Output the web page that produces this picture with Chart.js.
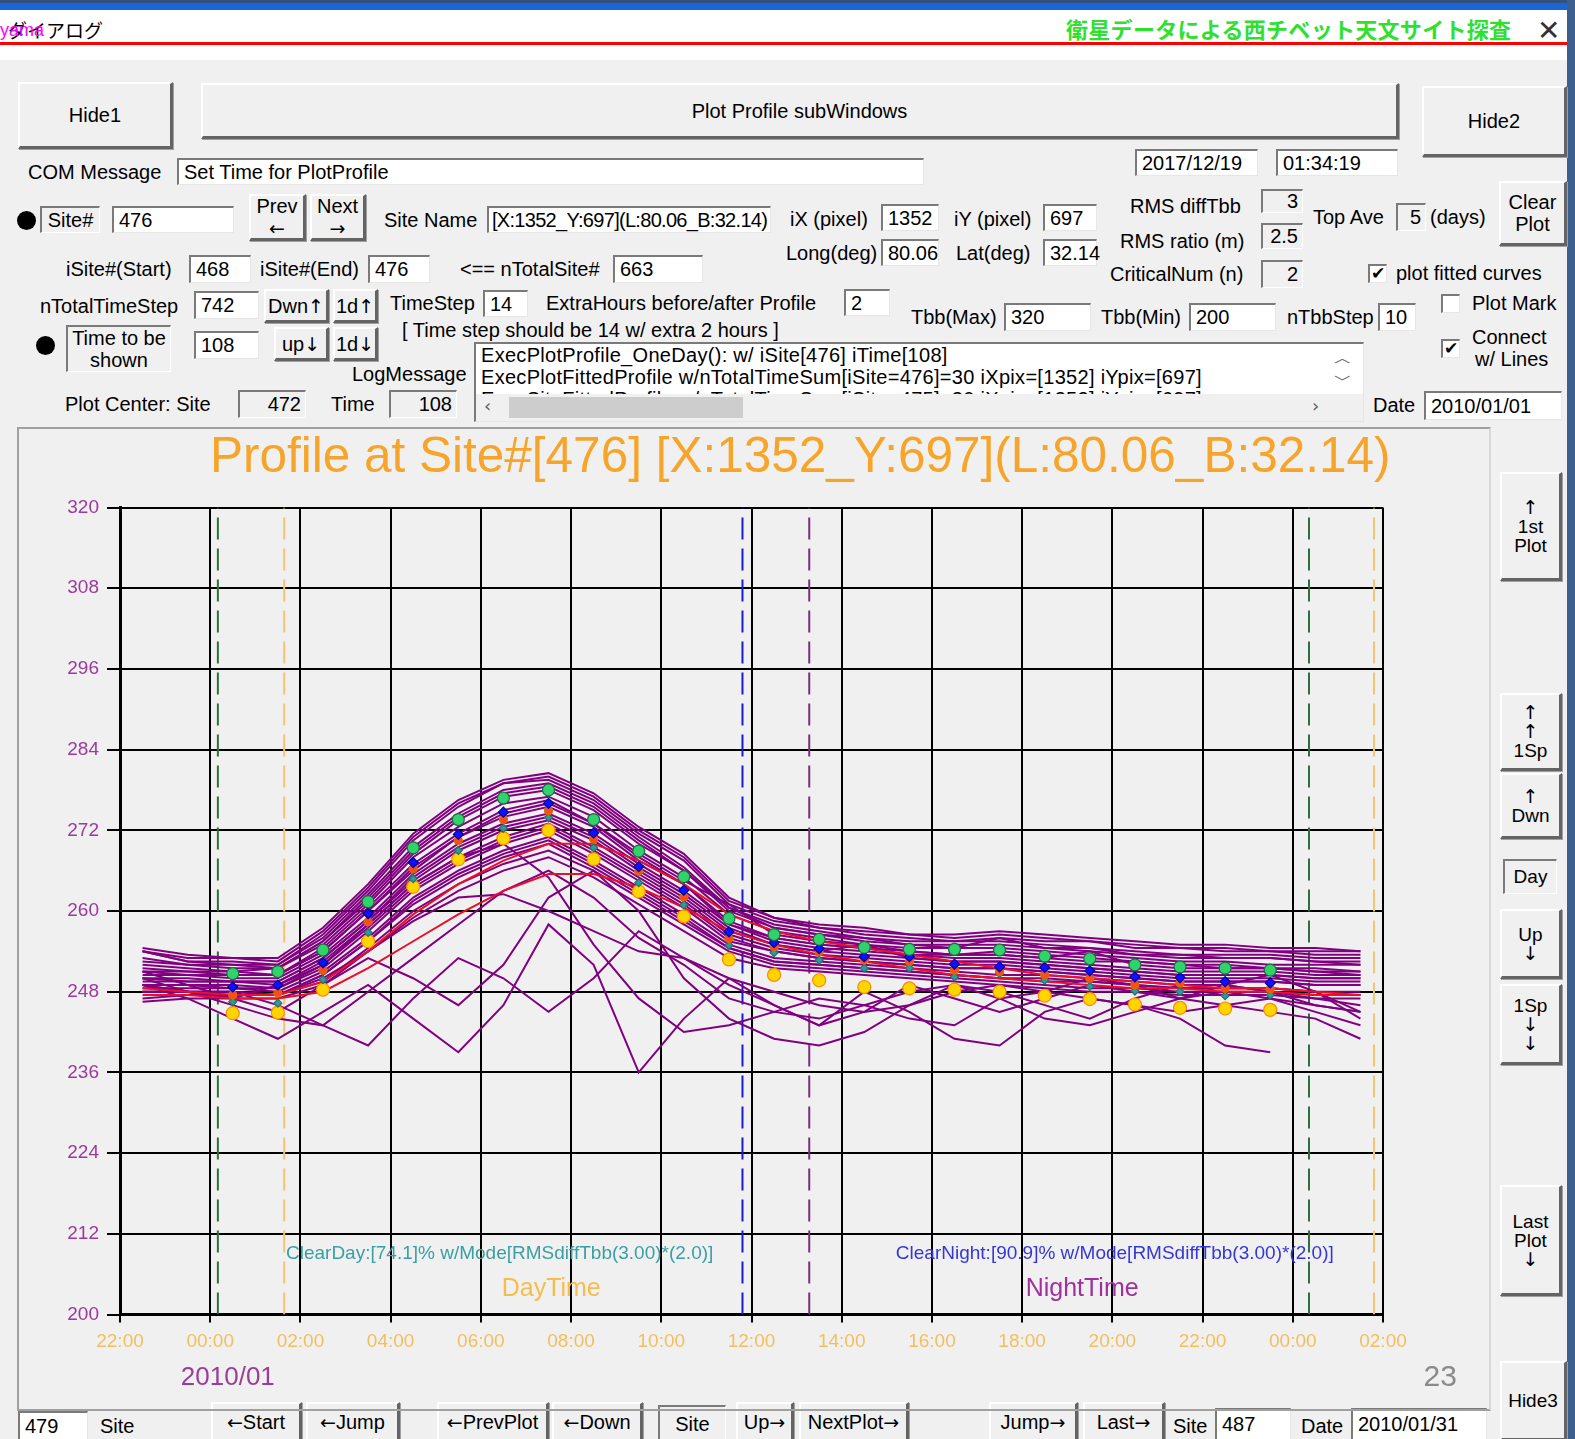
<!DOCTYPE html>
<html lang="ja">
<head>
<meta charset="utf-8">
<title>Plot Profile subWindows</title>
<script src="https://cdn.jsdelivr.net/npm/chart.js@4.4.1/dist/chart.umd.min.js"></script>
<style>
html, body { margin: 0; padding: 0; }
body { width: 1575px; height: 1439px; overflow: hidden; position: relative; background: #f0f0f0;
  font-family: "Liberation Sans", Arial, sans-serif; font-size: 20px; color: #000; }
#topbar { position: absolute; left: 0; top: 0; width: 1575px; height: 10px; background: #1a66d6; border-top: 3px solid #34507e; box-sizing: border-box; }
#caption { position: absolute; left: 0; top: 10px; width: 1567px; height: 50px; background: #fff; }
#redline { position: absolute; left: 0; top: 42px; width: 1567px; height: 3px; background: #f00; }
#rightedge { position: absolute; left: 1567px; top: 0; width: 8px; height: 1439px; background: #3d5f90; }
.w { position: absolute; box-sizing: border-box; white-space: nowrap; }
.btn { background: #f0f0f0; border-style: solid; border-width: 2px 3px 3px 2px; border-color: #fff #646464 #646464 #fff;
  box-shadow: 1px 1px 0 #a0a0a0; display: flex; align-items: center; justify-content: center; text-align: center; line-height: 1.1; }
.rbtn { font-size: 19px; line-height: 1.0; }
.box { background: #fff; border-style: solid; border-width: 2px 1px 1px 2px; border-color: #7a7a7a #e6e6e6 #e6e6e6 #7a7a7a;
  padding-left: 5px; display: flex; align-items: center; }
.tight { letter-spacing: -0.7px; padding-left: 3px; }
.gbox { background: #f0f0f0; border-style: solid; border-width: 2px 1px 1px 2px; border-color: #7a7a7a #fff #fff #7a7a7a;
  padding-right: 4px; display: flex; align-items: center; justify-content: flex-end; }
.slab { background: #f0f0f0; border-style: solid; border-width: 2px 1px 1px 2px; border-color: #7a7a7a #fff #fff #7a7a7a;
  display: flex; align-items: center; justify-content: center; text-align: center; line-height: 1.1; padding: 0 3px; }
.lbl { line-height: 26px; height: 26px; }
.ar { font-family: "DejaVu Sans", sans-serif; font-size: 19px; }
.chk { width: 19px; height: 19px; background: #fff; border-style: solid; border-width: 2px 1px 1px 2px; border-color: #7a7a7a #e6e6e6 #e6e6e6 #7a7a7a;
  font: bold 17px "DejaVu Sans", sans-serif; line-height: 15px; text-align: center; }
.dot { width: 19px; height: 19px; border-radius: 50%; background: #000; }
#plotbox { position: absolute; left: 17px; top: 427px; width: 1474px; height: 984px; box-sizing: border-box;
  border: 2px solid; border-color: #a0a0a0 #d8d8d8 #a0a0a0 #a0a0a0; }
#chart { position: absolute; left: 19px; top: 429px; }
#log { position: absolute; left: 474px; top: 342px; width: 890px; height: 80px; box-sizing: border-box; background: #fff;
  border-style: solid; border-width: 2px 1px 1px 2px; border-color: #7a7a7a #e6e6e6 #e6e6e6 #7a7a7a; overflow: hidden; }
#log .ln { position: absolute; left: 5px; white-space: nowrap; line-height: 22px; letter-spacing: 0.3px; }
#hscroll { position: absolute; left: 0; bottom: 0; width: 100%; height: 27px; background: #f0f0f0; }
#thumb { position: absolute; left: 33px; top: 3px; width: 234px; height: 21px; background: #cdcdcd; }
.arr { position: absolute; font: 18px "DejaVu Sans", sans-serif; color: #606060; }
</style>
</head>
<body>
<div id="topbar"></div>
<div id="caption"></div>
<div class="w" style="left:8px;top:16px;font:19px 'Noto Sans CJK JP';line-height:28px;">ダイアログ</div>
<div class="w" style="left:0;top:16px;font:18px 'Liberation Sans';line-height:28px;color:#ff00ff;">yama</div>
<div id="redline"></div>
<div class="w" style="left:1066px;top:12px;font:bold 22px 'Noto Sans CJK JP';line-height:32px;color:#2fe02f;letter-spacing:0.3px;">衛星データによる西チベット天文サイト探査</div>
<div class="w" style="left:1537px;top:14px;font:28px 'DejaVu Sans';line-height:34px;color:#333;font-weight:200;">✕</div>
<div id="rightedge"></div>

<div id="ui"></div>

<div id="log">
  <div class="ln" style="top:0px">ExecPlotProfile_OneDay(): w/ iSite[476] iTime[108]</div>
  <div class="ln" style="top:22px">ExecPlotFittedProfile w/nTotalTimeSum[iSite=476]=30 iXpix=[1352] iYpix=[697]</div>
  <div class="ln" style="top:44px">ExecSiteFittedProfile w/nTotalTimeSum[iSite=475]=30 iXpix=[1352] iYpix=[697]</div>
  <div class="arr" style="left:858px;top:2px;">︿</div>
  <div class="arr" style="left:858px;top:24px;">﹀</div>
  <div id="hscroll">
    <div class="arr" style="left:8px;top:1px;">‹</div>
    <div id="thumb"></div>
    <div class="arr" style="left:836px;top:1px;">›</div>
  </div>
</div>

<div id="plotbox"></div>
<canvas id="chart" width="1470" height="980"></canvas>

<script>
// ---- chart data (hours after 22:00, Tbb in K) ----
const lineHours = [0.5, 1.5, 2.5, 3.5, 4.5, 5.5, 6.5, 7.5, 8.5, 9.5, 10.5, 11.5, 12.5, 13.5,
  14.5, 15.5, 16.5, 17.5, 18.5, 19.5, 20.5, 21.5, 22.5, 23.5, 24.5, 25.5, 26.5, 27.5];
const markHours = [2.5, 3.5, 4.5, 5.5, 6.5, 7.5, 8.5, 9.5, 10.5, 11.5, 12.5, 13.5,
  14.5, 15.5, 16.5, 17.5, 18.5, 19.5, 20.5, 21.5, 22.5, 23.5, 24.5, 25.5];

const timeLabels = ['22:00', '00:00', '02:00', '04:00', '06:00', '08:00', '10:00', '12:00',
  '14:00', '16:00', '18:00', '20:00', '22:00', '00:00', '02:00'];

// hourly markers
const markGreen = [250.7, 251.0, 254.2, 261.4, 269.4, 273.6, 276.8, 278.0, 273.6, 268.9, 265.1, 258.9,
  256.5, 255.8, 254.6, 254.3, 254.3, 254.2, 253.3, 252.9, 252.0, 251.7, 251.5, 251.2];
const markBlue = [248.7, 249.0, 252.3, 259.6, 267.2, 271.4, 274.7, 276.0, 271.6, 266.6, 263.1, 256.9,
  255.3, 254.4, 253.2, 253.2, 252.1, 251.7, 251.6, 251.1, 250.2, 250.1, 249.5, 249.3];
const markRed = [247.5, 247.8, 251.2, 258.4, 266.3, 270.5, 273.6, 274.9, 270.7, 265.9, 262.1, 255.9,
  254.7, 253.9, 252.7, 252.5, 251.2, 251.0, 250.5, 250.0, 249.0, 249.3, 248.5, 248.4];
const markTeal = [246.5, 246.3, 249.8, 256.8, 264.8, 269.0, 272.3, 273.9, 269.4, 264.2, 260.9, 254.9,
  253.8, 252.7, 251.5, 251.5, 250.2, 250.7, 249.7, 248.8, 248.1, 248.0, 247.4, 247.5];
const markYellow = [244.8, 244.9, 248.3, 255.5, 263.6, 267.7, 270.8, 272.0, 267.7, 262.9, 259.2, 252.8,
  250.5, 249.7, 248.7, 248.5, 248.3, 248.0, 247.4, 246.9, 246.1, 245.6, 245.5, 245.3];

// daily profiles (purple)
const dayProfiles = [
  [254.5, 253.5, 253, 253, 257.5, 264, 271.5, 276.5, 279.5, 280.5, 277.5, 272.5, 268.5, 262, 259, 258, 257.5, 256.5, 256.5, 257, 256.5, 256, 255.5, 255, 255, 254.5, 254.5, 254],
  [254, 253, 253, 252.5, 257, 263.5, 271, 276, 279, 280, 277, 272, 268, 261.5, 259, 257.5, 257, 256.5, 256, 256.5, 256, 255.5, 255, 254.5, 254.5, 254, 254, 254],
  [254, 252.5, 252.5, 252, 256.5, 263, 270.5, 275.5, 279, 279.5, 276.5, 271.5, 267.5, 261, 258.5, 257.5, 256.5, 256, 255.5, 256, 255.5, 255.5, 254.5, 254.5, 254, 254, 253.5, 253.5],
  [254, 252.5, 252, 252, 256, 262.5, 269.5, 274.5, 278, 279, 276, 271, 266.5, 260.5, 258, 257, 256, 255.5, 255.5, 255.5, 255, 254.5, 254, 253.5, 253.5, 253.5, 253, 253],
  [253, 252, 252, 251.5, 255.5, 262, 269, 274, 277.5, 278.5, 275.5, 270.5, 266, 260.5, 257.5, 256.5, 256, 255, 255, 255, 254.5, 254.5, 253.5, 253.5, 253, 253, 252.5, 252.5],
  [252.5, 252, 251.5, 251.5, 255.5, 261.5, 268.5, 273.5, 277, 278, 275, 270, 266, 260, 257.5, 256.5, 255.5, 255, 254.5, 256, 254.5, 254, 253.5, 253, 253, 253, 252.5, 252],
  [252, 251.5, 251, 251.5, 255, 261, 268, 272.5, 276, 277, 274, 269, 265, 259.5, 257, 256, 255, 254.5, 254.5, 254.5, 254, 253.5, 253, 252.5, 252.5, 252, 252, 252],
  [251.5, 251, 251, 250.5, 254.5, 260.5, 267, 271.5, 275, 276.5, 273, 268.5, 264.5, 261, 256.5, 255.5, 255, 254, 253.5, 254, 253.5, 253, 252.5, 252, 252, 251.5, 251.5, 251],
  [251, 251, 250.5, 250.5, 254, 260, 266.5, 271, 274.5, 276, 273, 268, 264, 258.5, 256, 255, 254.5, 254, 253.5, 253.5, 253, 252.5, 252.5, 252, 251.5, 251.5, 251, 251],
  [251, 250.5, 250.5, 250.5, 254, 260, 266, 271, 274, 275.5, 272.5, 267.5, 264, 258, 256, 255, 254.5, 253.5, 253.5, 253.5, 253, 254, 252, 251.5, 251.5, 251.5, 251, 250.5],
  [250.5, 250.5, 250, 250, 253.5, 259, 265.5, 270, 273, 274.5, 271.5, 267, 263, 258, 255.5, 254.5, 254, 253.5, 253, 253, 252.5, 252, 251.5, 251, 251, 251, 250.5, 250.5],
  [250, 250, 249.5, 249.5, 253, 258.5, 265, 269.5, 272.5, 274, 271, 266.5, 262.5, 257.5, 255, 254, 253.5, 253, 252.5, 252.5, 252, 251.5, 251, 250.5, 250.5, 250.5, 250, 250],
  [250, 249.5, 249.5, 249.5, 253, 258.5, 264.5, 269, 272, 273.5, 270.5, 266, 262, 257, 255, 254, 255, 253, 252.5, 252.5, 252, 251.5, 251, 250.5, 250.5, 250.5, 250, 250],
  [249.5, 249.5, 249.5, 249, 252.5, 258, 264, 268, 271, 273, 269.5, 265.5, 261.5, 256.5, 254.5, 253.5, 253, 252.5, 252, 252, 251.5, 251, 250.5, 250, 250, 250, 249.5, 249.5],
  [249, 249, 249, 248.5, 252, 257.5, 263.5, 267.5, 270.5, 272.5, 269, 265, 261, 256, 254, 253, 252.5, 252, 251.5, 251.5, 251, 250.5, 250, 249.5, 249.5, 249.5, 249, 249],
  [249, 249, 248.5, 248.5, 251.5, 257, 263, 267, 270, 272, 268.5, 264.5, 260.5, 255.5, 254, 253, 252.5, 252, 251.5, 251.5, 251, 250.5, 250, 249.5, 249.5, 249.5, 249, 249],
  [248.5, 248.5, 248.5, 248, 251, 256, 262, 266, 269, 271, 267.5, 263.5, 259.5, 255, 253, 252.5, 252, 251.5, 251, 250.5, 250.5, 250, 249.5, 249, 249, 250.5, 248, 245],
  [248, 248, 247.5, 247.5, 250.5, 255.5, 261.5, 265.5, 268.5, 270.5, 267, 263, 259, 254.5, 252.5, 252, 251.5, 251, 250.5, 250, 250, 249.5, 249, 248.5, 248.5, 248.5, 248, 248],
  [248, 248, 248, 247.5, 250.5, 255.5, 261, 265, 268, 270, 266.5, 262.5, 258.5, 254.5, 252.5, 252, 251.5, 251, 250.5, 250, 249.5, 249.5, 249, 248.5, 248.5, 248.5, 248, 244],
  [247, 247.5, 247.5, 247.5, 249.5, 254.5, 260, 264, 267, 269, 266, 262, 258, 254, 252, 251.5, 251, 250.5, 250, 249.5, 249, 248.5, 248.5, 248, 248, 248, 247.5, 247.5],
  [246.5, 247, 247, 247, 249, 254, 259, 263, 266, 268, 265, 261, 257, 253, 251.5, 251, 250.5, 250, 249.5, 249, 248.5, 248, 248, 247.5, 247.5, 247.5, 247, 247],
  [249, 247, 244, 241, 245, 249, 244, 239, 246, 258, 252, 236, 244, 250, 246, 243, 248, 245, 241, 240, 245, 247, 246, 244, 240, 239, null, null],
  [250, 248, 246, 244, 243, 248, 253, 258, 263, 266, 262, 256, 252, 247, 245, 244, 246, 244, 243, 247, 248, 250, 249, 247, 246, 245, 244, 241],
  [248, 248, 247, 249, 252, 258, 264, 268, 270, 265, 255, 247, 242, 243, 245, 247, 246, 248, 249, 247, 244, 243, 245, 247, 248, 247, 245, 243],
  [249, 248, 248, 246, 243, 240, 247, 253, 250, 245, 250, 257, 253, 249, 246, 243, 245, 249, 247, 245, 247, 249, 248, 247, 249, 248, 246, 245],
  [251, 249, 247, 245, 249, 253, 250, 246, 252, 262, 266, 260, 250, 244, 241, 240, 242, 246, 249, 248, 246, 244, 247, 249, 249, 248, 247, 246],
  [249, 248, 248, 247.5, 250, 254, 258.5, 262, 262.5, 260, 257, 254, 253, 250, 248, 246, 245, 246, 248, 249, 248, 247, 246, 245, 246, 247, 246, 245]
];

// fitted curves (red)
const fittedCurves = [
  [248.5, 248, 247.5, 247.5, 249.5, 254, 259.5, 264, 267.5, 270, 270, 267.5, 264, 259.5, 257, 255.5, 254.5, 253.5, 252.5, 251.5, 250.5, 250, 249.5, 249, 248.5, 248.5, 248, 247.5],
  [247.5, 247.5, 247, 247, 248, 251.5, 255.5, 259.5, 263, 265.5, 265.5, 263.5, 260.5, 257, 255, 253.5, 252.5, 251.5, 250.5, 250, 249.5, 249, 248.5, 248.5, 248, 248, 247.5, 247.5]
];

// sunrise / sunset guide lines (hours after 22:00)
const guideHours = [2.17, 3.64, 13.8, 15.28, 26.36, 27.8];
const guideColors = ['#2f6f3f', '#f4c474', '#1a1ad0', '#7b2f7b', '#2f6f3f', '#f4c474'];

const chartTitle = 'Profile at Site#[476] [X:1352_Y:697](L:80.06_B:32.14)';

// free texts drawn on the chart (placed in hour / Tbb units)
const notes = [
  { text: chartTitle, h: 15.08, v: 327.3, color: '#f6a52a', size: 49.5, align: 'center' },
  { text: 'ClearDay:[74.1]% w/Mode[RMSdiffTbb(3.00)*(2.0)]', h: 3.68, v: 209.0, color: '#3a9fa2', size: 19, align: 'left' },
  { text: 'DayTime', h: 9.56, v: 203.8, color: '#f6bd4c', size: 25, align: 'center' },
  { text: 'ClearNight:[90.9]% w/Mode[RMSdiffTbb(3.00)*(2.0)]', h: 17.2, v: 209.0, color: '#3636d6', size: 19, align: 'left' },
  { text: 'NightTime', h: 21.33, v: 203.8, color: '#a0309f', size: 25, align: 'center' },
  { text: '2010/01', h: 2.39, v: 190.6, color: '#9a3d9a', size: 26, align: 'center' },
  { text: '23', h: 29.27, v: 190.6, color: '#8a8a8a', size: 30, align: 'center' }
];

// ---- dialog widgets: [class, left, top, width, height, html] ----
const widgets = [
  ['btn', 18, 82, 155, 67, 'Hide1'],
  ['btn', 201, 83, 1198, 56, 'Plot Profile subWindows'],
  ['btn', 1422, 86, 145, 71, 'Hide2'],
  ['box', 177, 158, 747, 27, 'Set Time for PlotProfile'],
  ['box', 1135, 149, 123, 27, '2017/12/19'],
  ['box', 1276, 149, 122, 27, '01:34:19'],
  ['slab', 40, 206, 60, 27, 'Site#'],
  ['box', 112, 206, 122, 27, '476'],
  ['btn', 249, 194, 57, 47, 'Prev<br>←'],
  ['btn', 310, 194, 56, 47, 'Next<br>→'],
  ['box tight', 487, 206, 284, 27, '[X:1352_Y:697](L:80.06_B:32.14)'],
  ['box', 881, 204, 58, 27, '1352'],
  ['box', 1043, 204, 54, 27, '697'],
  ['gbox', 1261, 189, 42, 24, '3'],
  ['gbox', 1396, 203, 30, 28, '5'],
  ['btn', 1499, 181, 68, 65, 'Clear<br>Plot'],
  ['box', 881, 239, 58, 27, '80.06'],
  ['box', 1043, 239, 54, 27, '32.14'],
  ['gbox', 1261, 223, 42, 26, '2.5'],
  ['box', 189, 255, 62, 28, '468'],
  ['box', 368, 255, 62, 28, '476'],
  ['box', 613, 255, 90, 28, '663'],
  ['gbox', 1261, 260, 42, 28, '2'],
  ['box', 194, 291, 65, 28, '742'],
  ['btn', 264, 289, 65, 34, 'Dwn↑'],
  ['btn', 333, 289, 45, 34, '1d↑'],
  ['box', 483, 290, 45, 27, '14'],
  ['box', 844, 289, 46, 27, '2'],
  ['box', 1004, 303, 87, 28, '320'],
  ['box', 1189, 303, 87, 28, '200'],
  ['box', 1378, 303, 38, 28, '10'],
  ['slab', 66, 325, 105, 47, 'Time to be<br>shown'],
  ['box', 194, 331, 65, 28, '108'],
  ['btn', 274, 327, 55, 34, 'up↓'],
  ['btn', 333, 327, 45, 34, '1d↓'],
  ['gbox', 238, 390, 68, 28, '472'],
  ['gbox', 389, 390, 68, 28, '108'],
  ['box', 1424, 391, 138, 29, '2010/01/01'],
  ['btn rbtn', 1500, 472, 62, 109, '↑<br>1st<br>Plot'],
  ['btn rbtn', 1500, 693, 62, 78, '↑<br>↑<br>1Sp'],
  ['btn rbtn', 1500, 773, 62, 66, '↑<br>Dwn'],
  ['slab rbtn', 1503, 859, 54, 35, 'Day'],
  ['btn rbtn', 1500, 909, 62, 70, 'Up<br>↓'],
  ['btn rbtn', 1500, 984, 62, 81, '1Sp<br>↓<br>↓'],
  ['btn rbtn', 1500, 1185, 62, 111, 'Last<br>Plot<br>↓'],
  ['btn rbtn', 1500, 1361, 67, 80, 'Hide3'],
  ['box', 18, 1411, 70, 30, '479'],
  ['btn', 211, 1402, 91, 40, '←Start'],
  ['btn', 306, 1402, 94, 40, '←Jump'],
  ['btn', 437, 1402, 112, 40, '←PrevPlot'],
  ['btn', 552, 1402, 91, 40, '←Down'],
  ['slab', 658, 1405, 68, 36, 'Site'],
  ['btn', 736, 1402, 58, 40, 'Up→'],
  ['btn', 799, 1402, 110, 40, 'NextPlot→'],
  ['btn', 989, 1402, 89, 40, 'Jump→'],
  ['btn', 1083, 1402, 82, 40, 'Last→'],
  ['box', 1215, 1408, 76, 32, '487'],
  ['box', 1351, 1408, 136, 32, '2010/01/31']
];

// labels: [left, centre y, text]
const labels = [
  [28, 172, 'COM Message'], [384, 220, 'Site Name'], [790, 219, 'iX (pixel)'], [954, 219, 'iY (pixel)'],
  [1130, 206, 'RMS diffTbb'], [1313, 217, 'Top Ave'], [1430, 217, '(days)'],
  [786, 253, 'Long(deg)'], [956, 253, 'Lat(deg)'], [1120, 241, 'RMS ratio (m)'],
  [66, 269, 'iSite#(Start)'], [260, 269, 'iSite#(End)'], [460, 269, '&lt;== nTotalSite#'],
  [1110, 274, 'CriticalNum (n)'], [1396, 273, 'plot fitted curves'],
  [40, 306, 'nTotalTimeStep'], [390, 303, 'TimeStep'], [546, 303, 'ExtraHours before/after Profile'],
  [911, 317, 'Tbb(Max)'], [1101, 317, 'Tbb(Min)'], [1287, 317, 'nTbbStep'], [1472, 303, 'Plot Mark'],
  [402, 330, '[ Time step should be 14 w/ extra 2 hours ]'],
  [1472, 337, 'Connect'], [1475, 359, 'w/ Lines'],
  [352, 374, 'LogMessage'], [65, 404, 'Plot Center: Site'], [331, 404, 'Time'], [1373, 405, 'Date'],
  [100, 1426, 'Site'], [1173, 1426, 'Site'], [1301, 1426, 'Date']
];

const checks = [[1368, 264, true], [1441, 294, false], [1441, 339, true]];
const dots = [[17, 211], [36, 336]];

const ui = document.getElementById('ui');
const put = (cls, x, y, w, h, html) => {
  const d = document.createElement('div');
  d.className = 'w ' + cls;
  d.style.left = x + 'px';
  d.style.top = y + 'px';
  if (w) d.style.width = w + 'px';
  if (h) d.style.height = h + 'px';
  // one inner block so <br> line breaks survive the flex centring
  d.innerHTML = '<div>' + html.replace(/([←→↑↓])/g, '<span class="ar">$1</span>') + '</div>';
  ui.appendChild(d);
};
widgets.forEach(([c, x, y, w, h, t]) => put(c, x, y, w, h, t));
labels.forEach(([x, cy, t]) => put('lbl', x, cy - 13, 0, 0, t));
checks.forEach(([x, y, on]) => put('chk', x, y, 0, 0, on ? '✔' : ''));
dots.forEach(([x, y]) => put('dot', x, y, 0, 0, ''));

// ---- chart ----
const pts = (hours, vals) => hours.map((h, i) => ({ x: h, y: vals[i] }));

const markerStyles = [
  { vals: markGreen, style: 'circle', r: 6, fill: '#2fd36a', edge: '#1e6b44' },
  { vals: markBlue, style: 'rectRot', r: 5, fill: '#1010ff', edge: '#0000a0' },
  { vals: markRed, style: 'circle', r: 4, fill: '#ff4a1c', edge: '#d07000' },
  { vals: markTeal, style: 'rectRot', r: 4, fill: '#2f9a9a', edge: '#2a6f6f' },
  { vals: markYellow, style: 'circle', r: 6.5, fill: '#ffd500', edge: '#ff8a00' }
];

const datasets = [];
markerStyles.forEach(m => datasets.push({
  type: 'scatter', data: pts(markHours, m.vals), order: 0,
  pointStyle: m.style, pointRadius: m.r, backgroundColor: m.fill, borderColor: m.edge, pointBorderWidth: 1.2
}));
fittedCurves.forEach(c => datasets.push({
  type: 'line', data: pts(lineHours, c), order: 1,
  borderColor: '#e8102a', borderWidth: 2, pointRadius: 0
}));
dayProfiles.forEach(p => datasets.push({
  type: 'line', data: pts(lineHours, p), order: 2,
  borderColor: '#800080', borderWidth: 2, pointRadius: 0
}));
guideHours.forEach((h, i) => datasets.push({
  type: 'line', data: [{ x: h, y: 200 }, { x: h, y: 320 }], order: 3,
  borderColor: guideColors[i], borderWidth: 2, borderDash: [22, 9], pointRadius: 0
}));

const notesPlugin = {
  id: 'notes',
  afterDraw(chart) {
    const { ctx, scales: { x, y } } = chart;
    ctx.save();
    ctx.textBaseline = 'middle';
    notes.forEach(n => {
      ctx.font = n.size + 'px "Liberation Sans", Arial, sans-serif';
      ctx.fillStyle = n.color;
      ctx.textAlign = n.align;
      ctx.fillText(n.text, x.getPixelForValue(n.h), y.getPixelForValue(n.v));
    });
    ctx.restore();
  }
};

const tickFont = { family: '"Liberation Sans", Arial, sans-serif', size: 19 };

new Chart(document.getElementById('chart'), {
  type: 'line',
  data: { datasets },
  options: {
    responsive: false,
    animation: false,
    events: [],
    layout: { padding: { left: 0, right: 106, top: 78.5, bottom: 14.5 } },
    plugins: { legend: { display: false }, tooltip: { enabled: false }, title: { display: false } },
    scales: {
      x: {
        type: 'linear', min: 0, max: 28,
        ticks: { stepSize: 2, autoSkip: false, maxRotation: 0, color: '#f2bf5c', font: tickFont, padding: 8,
          callback: v => timeLabels[Math.round(v / 2)] },
        grid: { color: '#000', lineWidth: 2, tickLength: 8, tickColor: '#000' },
        border: { color: '#000', width: 3 },
        afterFit: s => { s.height = 80; }
      },
      y: {
        type: 'linear', min: 200, max: 320,
        ticks: { stepSize: 12, color: '#9c3a9c', font: tickFont, padding: 8 },
        grid: { color: '#000', lineWidth: 2, tickLength: 13, tickColor: '#000' },
        border: { color: '#000', width: 3 },
        afterFit: s => { s.width = 101; }
      }
    }
  },
  plugins: [notesPlugin]
});
</script>
</body>
</html>
